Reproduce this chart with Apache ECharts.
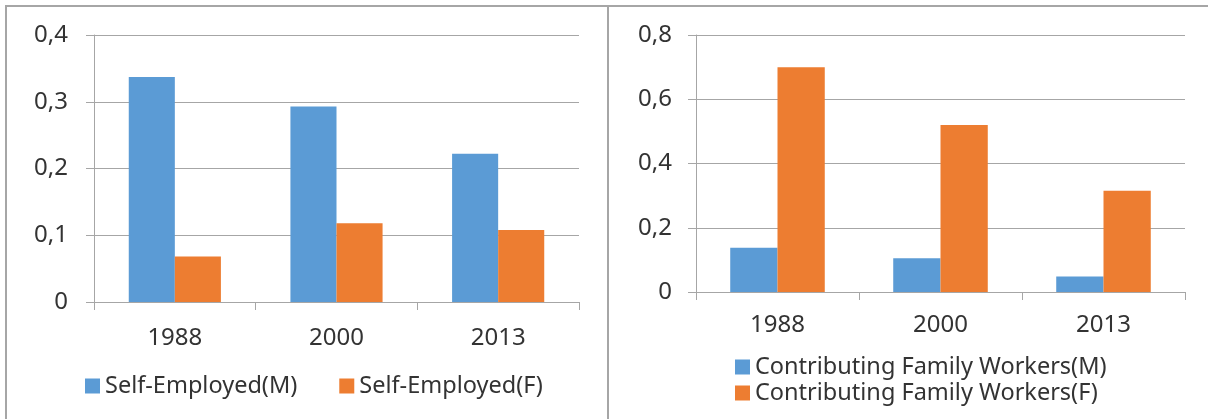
<!DOCTYPE html>
<html>
<head>
<meta charset="utf-8">
<script src="https://cdn.jsdelivr.net/npm/echarts@6/dist/echarts.min.js"></script>
<style>
  body { margin: 0; background: #fff; }
  #frame { position: absolute; left: 0; top: 0; width: 1208px; height: 419px; }
  .line { position: absolute; background: #a6a6a6; }
  #chart { position: absolute; left: 0; top: 0; width: 1208px; height: 419px; }
</style>
</head>
<body>
<div id="frame">
  <div class="line" style="left:5px; top:5px; width:1203px; height:2px"></div>
  <div class="line" style="left:5px; top:5px; width:2px; height:414px"></div>
  <div class="line" style="left:607px; top:5px; width:2px; height:414px"></div>
</div>
<div id="chart"></div>
<script>
const years = ["1988", "2000", "2013"];
const selfEmployedM = [0.337, 0.293, 0.222];
const selfEmployedF = [0.068, 0.118, 0.108];
const familyWorkersM = [0.138, 0.105, 0.048];
const familyWorkersF = [0.70, 0.52, 0.315];

const blue = "#5b9bd5";
const orange = "#ed7d31";
const font = "Noto Sans";

function comma(v) {
  return v === 0 ? "0" : v.toFixed(1).replace(".", ",");
}

function xAxisFor(gridIndex, margin) {
  return {
    type: "category",
    gridIndex: gridIndex,
    data: years,
    axisLine: { lineStyle: { color: "#a6a6a6", width: 1 } },
    axisTick: { show: true, length: 8, lineStyle: { color: "#a6a6a6" } },
    axisLabel: { margin: margin, fontFamily: font, fontSize: 24, color: "#333" },
  };
}

function yAxisFor(gridIndex, max, interval, margin) {
  return {
    type: "value",
    gridIndex: gridIndex,
    min: 0,
    max: max,
    interval: interval,
    axisLine: { show: true, lineStyle: { color: "#a6a6a6", width: 1 } },
    axisTick: { show: true, length: 8, lineStyle: { color: "#a6a6a6" } },
    splitLine: { lineStyle: { color: "#a6a6a6", width: 1 } },
    axisLabel: { margin: margin, fontFamily: font, fontSize: 24, color: "#333", formatter: comma },
  };
}

const chart = echarts.init(document.getElementById("chart"));

const option = {
  animation: false,
  grid: [
    { left: 94, right: 629, top: 35, bottom: 117 },
    { left: 696, right: 23, top: 35, bottom: 127 },
  ],
  xAxis: [xAxisFor(0, 24), xAxisFor(1, 21)],
  yAxis: [yAxisFor(0, 0.4, 0.1, 26), yAxisFor(1, 0.8, 0.2, 24)],
  legend: [
    {
      data: ["Self-Employed(M)", "Self-Employed(F)"],
      left: 80,
      top: 369,
      itemWidth: 15,
      itemHeight: 15,
      itemGap: 42,
      icon: "rect",
      textStyle: { fontFamily: font, fontSize: 23.5, color: "#333" },
    },
    {
      data: ["Contributing Family Workers(M)", "Contributing Family Workers(F)"],
      orient: "vertical",
      left: 730,
      top: 350,
      itemWidth: 15,
      itemHeight: 15,
      itemGap: 2,
      icon: "rect",
      textStyle: { fontFamily: font, fontSize: 23.5, color: "#333" },
    },
  ],
  series: [
    {
      name: "Self-Employed(M)",
      type: "bar",
      xAxisIndex: 0,
      yAxisIndex: 0,
      data: selfEmployedM,
      itemStyle: { color: blue },
      barGap: "0%",
      barCategoryGap: "43%",
    },
    {
      name: "Self-Employed(F)",
      type: "bar",
      xAxisIndex: 0,
      yAxisIndex: 0,
      data: selfEmployedF,
      itemStyle: { color: orange },
      barGap: "0%",
      barCategoryGap: "43%",
    },
    {
      name: "Contributing Family Workers(M)",
      type: "bar",
      xAxisIndex: 1,
      yAxisIndex: 1,
      data: familyWorkersM,
      itemStyle: { color: blue },
      barGap: "0%",
      barCategoryGap: "42%",
    },
    {
      name: "Contributing Family Workers(F)",
      type: "bar",
      xAxisIndex: 1,
      yAxisIndex: 1,
      data: familyWorkersF,
      itemStyle: { color: orange },
      barGap: "0%",
      barCategoryGap: "42%",
    },
  ],
};

chart.setOption(option);
</script>
</body>
</html>
